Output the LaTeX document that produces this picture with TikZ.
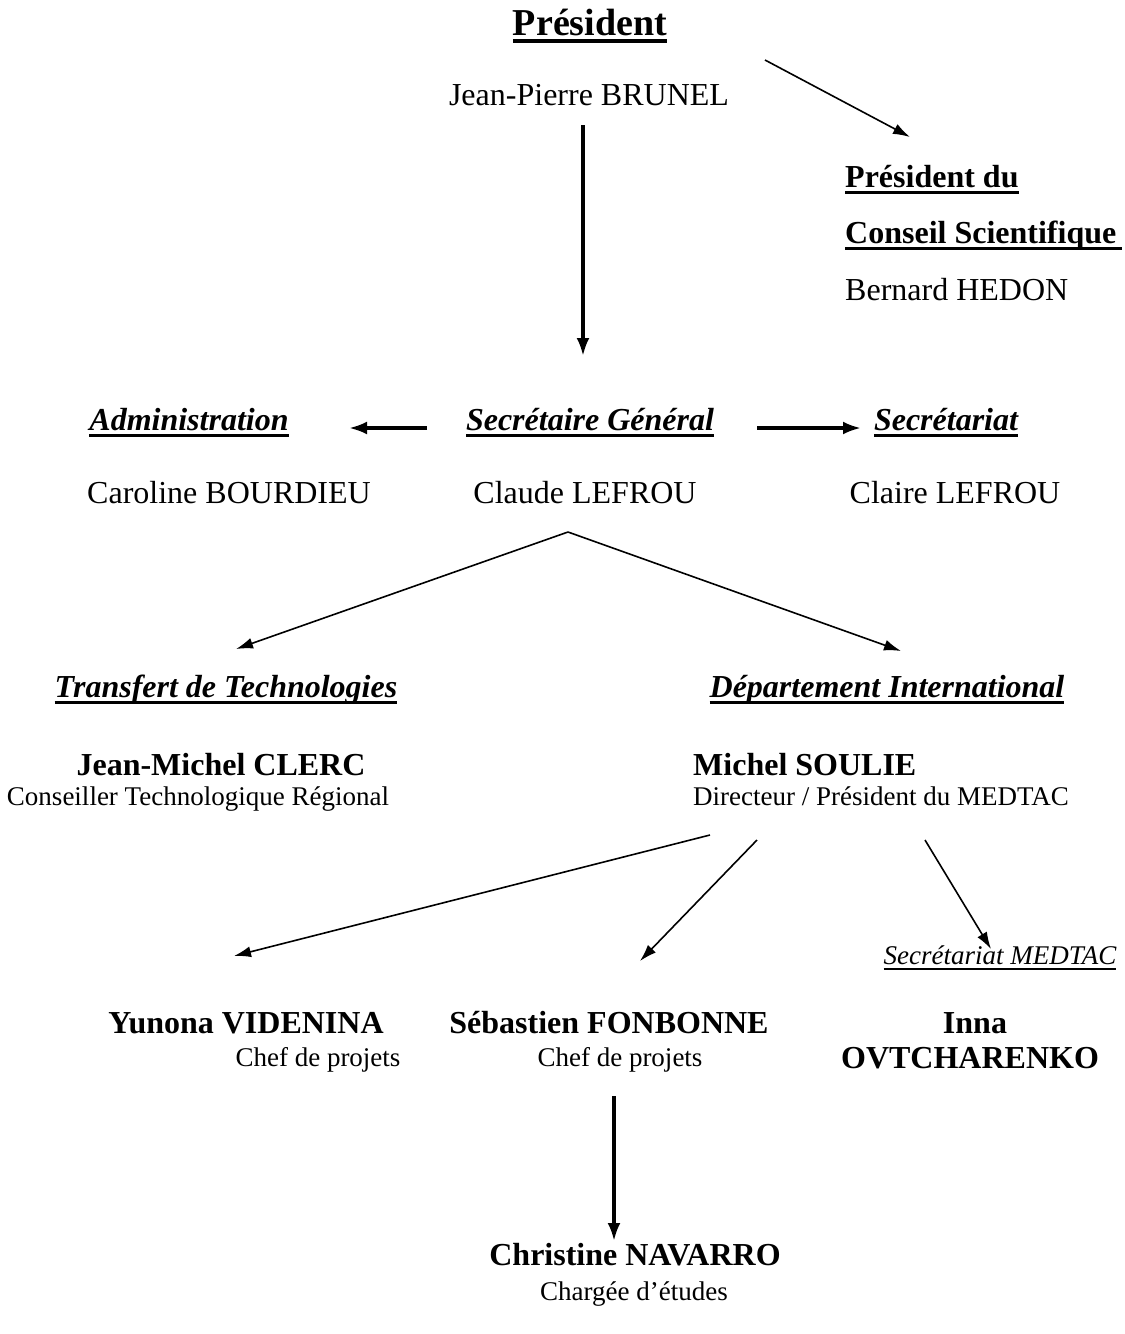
\documentclass[tikz,border=0pt]{standalone}
\usepackage{fontspec}
\setmainfont{Liberation Serif}
\usetikzlibrary{arrows.meta}
\newcommand\myul[2][0.1em]{\setbox0\hbox{#2}\rlap{\rule[-0.21em]{\wd0}{#1}}\box0}
\begin{document}
\begin{tikzpicture}[x=1pt,y=-1pt,
  txt/.style={inner sep=0pt,anchor=base},
  big/.style={txt,font=\fontsize{38}{44}\selectfont\bfseries},
  nm/.style={txt,font=\fontsize{32}{38}\selectfont},
  bnm/.style={txt,font=\fontsize{32}{38}\selectfont\bfseries},
  head/.style={txt,font=\fontsize{32}{38}\selectfont\bfseries\itshape},
  small/.style={txt,font=\fontsize{27}{32}\selectfont},
  smallit/.style={txt,font=\fontsize{27}{32}\selectfont\itshape},
  thick arrow/.style={line width=3.4pt,-{Latex[length=18pt,width=13pt]}},
  thin arrow/.style={line width=1.6pt,-{Latex[length=17pt,width=11pt]}}]
\useasboundingbox (0,0) rectangle (1125,1334);
% nodes
\node[big] (pres) at (590,35) {\myul{Président}};
\node[nm] (jpb) at (589,105) {Jean-Pierre BRUNEL};
\node[bnm,anchor=base west] (pcs1) at (845,187) {\myul{Président du}};
\node[bnm,anchor=base west] (pcs2) at (845,243) {\myul{Conseil Scientifique\,}};
\node[nm,anchor=base west] (hedon) at (845,300) {Bernard HEDON};
\node[head] (admin) at (189,430) {\myul{Administration}};
\node[head] (sg) at (590,430) {\myul{Secrétaire Général}};
\node[head] (secr) at (946,430) {\myul{Secrétariat}};
\node[nm] (bourdieu) at (229,503) {Caroline BOURDIEU};
\node[nm] (lefrou) at (585,503) {Claude LEFROU};
\node[nm] (claire) at (955,503) {Claire LEFROU};
\node[head] (tt) at (226,697) {\myul{Transfert de Technologies}};
\node[head] (di) at (887,697) {\myul{Département International}};
\node[bnm] (clerc) at (221,775) {Jean-Michel CLERC};
\node[small] (cons) at (198,805) {Conseiller Technologique Régional};
\node[bnm,anchor=base west] (soulie) at (693,775) {Michel SOULIE};
\node[small,anchor=base west] (dir) at (693,805) {Directeur / Président du MEDTAC};
\node[smallit] (secmed) at (1000,964) {\myul[0.07em]{Secrétariat MEDTAC}};
\node[bnm] (yunona) at (246,1033) {Yunona VIDENINA};
\node[small] (chef1) at (318,1066) {Chef de projets};
\node[bnm] (seb) at (609,1033) {Sébastien FONBONNE};
\node[small] (chef2) at (620,1066) {Chef de projets};
\node[bnm] (inna) at (975,1033) {Inna};
\node[bnm] (ovt) at (970,1068) {OVTCHARENKO};
\node[bnm] (navarro) at (635,1265) {Christine NAVARRO};
\node[small] (chargee) at (634,1300) {Chargée d’études};
% connector ends
\coordinate (c1a) at (765,60);   \coordinate (c1b) at (910,137);
\coordinate (c2a) at (583,125);  \coordinate (c2b) at (583,356);
\coordinate (c3a) at (427,428);  \coordinate (c3b) at (349,428);
\coordinate (c4a) at (757,428);  \coordinate (c4b) at (861,428);
\coordinate (c5a) at (568,532);  \coordinate (c5b) at (236,649);
\coordinate (c6b) at (901,651);
\coordinate (c7a) at (710,835);  \coordinate (c7b) at (234,956);
\coordinate (c8a) at (757,840);  \coordinate (c8b) at (640,961);
\coordinate (c9a) at (925,840);  \coordinate (c9b) at (991,949);
\coordinate (c10a) at (614,1096); \coordinate (c10b) at (614,1241);
% connectors
\draw[thin arrow] (c1a) -- (c1b);
\draw[thick arrow] (c2a) -- (c2b);
\draw[thick arrow] (c3a) -- (c3b);
\draw[thick arrow] (c4a) -- (c4b);
\draw[thin arrow] (c5a) -- (c5b);
\draw[thin arrow] (c5a) -- (c6b);
\draw[thin arrow] (c7a) -- (c7b);
\draw[thin arrow] (c8a) -- (c8b);
\draw[thin arrow] (c9a) -- (c9b);
\draw[thick arrow] (c10a) -- (c10b);
\end{tikzpicture}
\end{document}
